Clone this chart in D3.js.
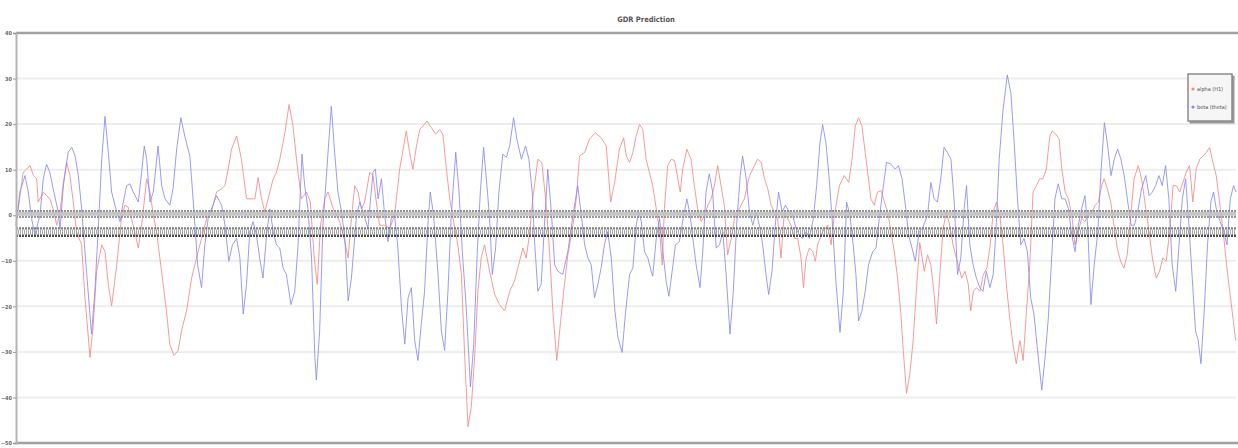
<!DOCTYPE html>
<html>
<head>
<meta charset="utf-8">
<script src="https://cdn.jsdelivr.net/npm/d3@7"></script>
<style>
  body { margin: 0; background: #fff; }
  svg { display: block; }
</style>
</head>
<body>
<div id="main"></div>
<script>
// values: [sample, value]
var redSeries = [[0,-2.2],[2.4,9.4],[4.7,10.9],[5.8,8.7],[6.9,8.0],[7.4,2.9],[8.6,4.3],[9.1,5.1],[10.2,4.3],[11.3,3.6],[12.4,1.4],[13.6,-2.2],[14.7,0.7],[15.8,7.2],[16.9,11.6],[18,8.7],[19.1,2.9],[20.2,-3.6],[21.9,-6.5],[23,-18.1],[24.7,-31.2],[25.8,-23.9],[26.9,-12.3],[28.6,-6.5],[29.7,-8.0],[30.8,-15.2],[31.9,-19.9],[33.6,-10.9],[35.2,-0.7],[36.3,2.2],[37.4,1.8],[39.1,-2.2],[40.8,-7.2],[41.9,-2.2],[43.6,8.0],[44.7,5.1],[45.8,0],[46.9,-3.6],[48,-9.4],[49.1,-15.2],[50.2,-21.0],[51.3,-28.3],[52.7,-30.8],[54.1,-29.7],[55.2,-25.4],[56.9,-21.0],[58.6,-13.8],[60.2,-9.4],[61.9,-5.1],[63.6,-0.7],[65.2,0.7],[66.9,5.1],[68.6,5.8],[69.7,6.5],[70.8,10.1],[71.9,14.5],[73.6,17.4],[75.2,12.3],[76.9,3.6],[78.6,3.6],[79.7,3.6],[80.8,8.3],[81.9,3.6],[83,0.7],[84.1,3.6],[85.8,8.0],[86.9,9.4],[88,12.3],[89.7,18.1],[91.1,24.3],[92.4,19.6],[93.8,10.9],[95.2,3.6],[96.9,5.1],[98.2,2.9],[99.5,-9.4],[100.5,-15.2],[101.6,-2.2],[103,3.6],[104.1,5.1],[105.8,1.4],[108,-1.4],[109.7,-5.8],[110.8,-9.4],[111.9,-0.7],[113,6.5],[114.1,5.1],[115.2,1.4],[116.3,2.9],[118,9.4],[119.1,8.7],[120.2,2.9],[121.3,-2.2],[123,-2.2],[124.7,-2.9],[126.3,0],[128,10.1],[130.2,18.5],[131.3,13.8],[132.4,10.1],[133.6,15.2],[134.7,18.8],[135.8,19.6],[137.1,20.7],[138.6,19.2],[140,17.8],[141.3,18.8],[142.4,17.8],[143.6,10.1],[144.7,3.6],[145.8,-0.7],[147.4,-6.5],[148.6,-13.0],[149.7,-31.2],[150.8,-46.4],[151.9,-42.0],[153,-31.2],[154.1,-16.7],[155.2,-9.4],[156.3,-6.5],[158,-12.3],[159.7,-17.4],[161.3,-19.6],[163,-21.0],[164.7,-16.7],[166.3,-14.5],[167.4,-11.6],[169.1,-7.2],[170.2,-9.4],[171.3,-4.3],[172.4,3.6],[174.1,12.3],[175.4,11.6],[176.7,3.6],[178,-8.0],[179.1,-21.0],[180.4,-31.9],[181.6,-23.9],[182.7,-16.7],[184.1,-8.7],[185.8,-2.2],[186.9,3.6],[188,13.0],[189.7,13.8],[191.3,16.7],[193.3,18.1],[195.2,17.0],[196.9,15.2],[198.4,2.9],[199.7,7.2],[201.3,14.5],[202.7,17.0],[203.6,13.0],[204.7,11.6],[205.8,13.8],[206.9,17.4],[208,19.9],[209.1,18.8],[210.2,12.3],[211.3,9.4],[212.4,6.5],[213.6,1.4],[214.7,-3.6],[215.6,-10.9],[216.3,1.4],[217.4,10.9],[218.6,12.3],[219.7,12.0],[220.8,8.0],[221.6,5.1],[222.4,10.1],[223.8,14.5],[225.2,12.3],[226.3,6.5],[227.4,1.4],[228.6,-1.4],[229.7,0],[230.8,2.2],[231.9,3.6],[233,6.5],[234.1,10.9],[235.2,6.5],[236.3,2.2],[237.4,-8.7],[238.6,-5.1],[239.7,-0.7],[241.3,1.4],[243,3.6],[244.7,8.7],[245.8,10.1],[247.4,12.3],[248.6,11.6],[249.7,8.0],[250.8,5.8],[251.9,2.2],[253,0.7],[254.1,-0.7],[255.2,-9.4],[256.3,0.7],[257.4,-0.7],[258.6,-2.2],[259.7,-5.1],[260.8,-5.1],[261.9,-9.4],[262.7,-15.9],[263.6,-9.4],[264.7,-7.2],[265.8,-8.0],[266.7,-10.1],[267.4,-6.5],[269.1,-3.6],[270.8,-2.2],[271.9,-6.5],[273,0],[274.7,6.5],[276.3,8.7],[277.8,7.2],[278.9,12.3],[280,19.6],[281.1,21.4],[282.2,19.6],[283.3,13.8],[284.4,8.0],[285.2,3.6],[286.3,2.2],[287.4,5.1],[288.6,5.4],[289.7,2.9],[290.8,0.7],[291.9,-3.6],[293,-8.0],[294.1,-13.8],[295.2,-21.7],[296,-29.7],[297.1,-39.1],[298.2,-34.8],[299.3,-27.5],[300.2,-18.1],[301.5,-6],[303,-12.3],[304.1,-8.7],[305.2,-10.9],[306.3,-17.4],[307.1,-23.9],[308.2,-13.0],[309.3,-2.9],[310.4,0.7],[311.5,-2.2],[312.6,-6.5],[313.7,-9.4],[314.6,-11.6],[315.5,-13.8],[316.6,-12.3],[317.7,-15.2],[318.5,-21.0],[319.4,-16.7],[320.4,-15.9],[321.6,-16.7],[322.7,-13.0],[323.9,-11.6],[325,-6.5],[326,0.7],[327.1,2.9],[328.2,0],[329.3,-6.5],[330.4,-15.2],[331.5,-22.5],[332.6,-28.3],[333.7,-32.6],[334.9,-27.5],[336,-31.9],[337.1,-21.0],[338.2,-10.9],[339.3,5.1],[340.4,6.5],[341.5,8.0],[342.6,8.0],[343.7,10.1],[344.9,17.4],[345.7,18.5],[346.9,17.8],[348,16.7],[348.9,10.1],[350,5.1],[351.1,3.6],[352.2,0],[353.3,-6.5],[354.4,-3.6],[355.5,-0.7],[356.6,-1.4],[357.7,0],[358.9,0.7],[360,2.2],[361.1,2.9],[362.2,6.5],[363,8.0],[364.1,5.8],[365.2,2.9],[366.3,-2.2],[367.4,-7.2],[368.5,-10.1],[369.6,-11.6],[370.7,-8.7],[371.9,0],[373,8.0],[374.4,10.9],[375.5,8.0],[376.6,2.9],[378,-3.6],[379.1,-9.4],[380.4,-13.8],[381.5,-12.3],[382.6,-9.4],[383.7,-10.1],[384.9,-3.6],[386,6.5],[387.1,6.5],[388.2,5.1],[389.3,7.2],[390.4,9.4],[391.5,10.9],[392.6,2.9],[393.7,10.1],[394.9,12.3],[396,13.0],[397.1,13.8],[398.2,14.9],[399.3,11.6],[400.4,8.7],[401.5,2.9],[402.6,-2.9],[404.1,-12.3],[405.7,-21.0],[406.9,-27.5]];

var blueSeries = [[0,-2.2],[1.3,5.1],[3,8.7],[4.1,5.1],[5.2,-0.7],[6.3,-4.3],[8,0],[9.1,8.0],[10.2,11.2],[11.3,9.4],[12.4,5.8],[14.1,0.7],[14.7,-2.9],[15.8,6.5],[17.4,13.8],[18.6,14.9],[19.7,13.0],[20.8,8.7],[21.9,1.4],[23.6,-13.0],[25.2,-26.1],[26.3,-16.7],[27.4,-3.6],[28.6,12.3],[29.7,21.7],[30.8,13.8],[31.9,5.1],[33.6,0.7],[34.7,-1.4],[35.8,2.9],[36.9,6.5],[38,6.9],[39.1,5.1],[40.8,2.9],[41.9,9.4],[42.8,15.2],[43.6,12.3],[44.7,2.9],[45.8,5.1],[47.4,15.2],[48.6,6.5],[49.7,3.6],[51.3,2.2],[52.4,5.8],[53.6,14.5],[55,21.4],[56.3,17.4],[58,13.0],[58.9,5.1],[59.7,-2.2],[60.6,-10.9],[61.9,-15.9],[63,-6.5],[64.1,-0.7],[65.2,1.4],[66.9,4.3],[68.6,2.2],[69.7,-2.2],[71,-10.1],[72.2,-6.5],[73.6,-5.1],[74.7,-9.4],[75.8,-21.7],[76.9,-15.2],[78,-3.6],[79.1,-1.4],[80.2,-4.3],[81.3,-9.4],[82.4,-13.8],[83.6,-4.3],[84.7,1.4],[85.8,-3.6],[86.9,-6.5],[88,-7.2],[89.1,-11.6],[90.2,-13.0],[91.7,-19.6],[93,-16.7],[94.1,-6.5],[95.4,13.4],[96.3,6.5],[97.4,1.4],[98.6,-9.4],[99.7,-31.2],[100.2,-36.2],[101.3,-25.4],[102.4,-2.2],[104.1,13.8],[105.2,23.9],[106.3,13.8],[107.4,5.1],[108.6,0.7],[109.7,-5.1],[110.8,-18.8],[111.9,-13.8],[113.6,0],[114.7,2.9],[115.8,0.7],[117.4,-2.9],[119.1,9.4],[119.9,10.1],[120.8,3.6],[121.9,8.0],[123,0],[124.1,-5.8],[125.2,-0.7],[126.3,0],[127.4,-7.2],[128.6,-20.3],[129.7,-28.3],[130.8,-18.1],[131.9,-15.9],[133,-27.5],[134.1,-31.9],[135.2,-23.9],[136.3,-16.7],[137.4,-2.2],[138.2,5.1],[139.3,0],[140.8,-13.0],[141.9,-25.4],[143,-29.7],[144.1,-16.7],[145.2,0],[146.7,13.8],[147.8,5.1],[148.9,-8.0],[150.2,-20.3],[151.6,-37.7],[152.7,-28.3],[153.8,-9.4],[154.9,5.1],[156,14.9],[157.1,6.5],[158,-0.7],[158.9,-13.0],[160,-7.2],[161.1,5.1],[162.4,13.4],[163.6,12.7],[164.7,15.2],[166,21.4],[167.1,16.7],[168.6,12.3],[170,15.2],[171.1,12.3],[172.2,5.1],[173,-5.8],[174.1,-16.7],[175.2,-15.2],[176.3,-2.2],[177.4,10.1],[178.6,0.7],[179.7,-10.9],[180.8,-12.3],[182.4,-13.0],[184.1,-8.0],[185.8,0],[187.4,6.5],[188.6,0],[189.7,-6.5],[190.8,-9.4],[191.9,-10.9],[193,-18.1],[194.1,-15.2],[195.2,-11.6],[196.3,-6.5],[197.4,-3.6],[198.6,-9.4],[199.7,-20.3],[200.8,-26.8],[202.2,-30.1],[203.3,-21.7],[204.7,-13.0],[205.8,-11.6],[206.9,-2.2],[207.8,0.7],[208.6,-1.4],[209.7,-8.0],[210.8,-9.4],[211.9,-12.3],[212.4,-13.4],[213.6,-5.1],[214.7,-0.7],[215.8,-8.0],[216.9,-14.5],[217.8,-17.8],[218.9,-12.3],[220,-6.5],[221.3,-5.8],[222.4,-1.4],[223.8,3.6],[224.9,0],[225.8,-5.1],[226.9,-10.9],[228.2,-15.9],[229.1,-8.0],[230.2,5.1],[231.3,9.1],[232.4,5.1],[233.6,-7.2],[234.7,-6.5],[235.8,-3.6],[236.9,-13.0],[238.2,-26.1],[239.3,-16.7],[240.4,-2.2],[241.6,8.7],[242.4,13.0],[243.6,8.0],[244.7,0.7],[245.8,-2.2],[246.9,0.7],[248,-2.2],[249.1,-6.5],[250.2,-13.0],[251.1,-17.4],[252.2,-12.3],[253.3,-2.2],[254.4,5.1],[255.6,0.7],[256.7,2.2],[258,0.7],[259.1,0],[260.2,-2.9],[261.3,-4.3],[262.4,-5.1],[263.6,-3.6],[264.7,-5.1],[266,-0.7],[267.1,6.5],[268.2,15.9],[269.1,19.9],[270.2,15.9],[271.3,8.0],[272.4,-2.2],[273.6,-15.2],[274.9,-25.7],[276,-16.7],[277.1,2.9],[278.2,0],[279.3,-6.5],[280.2,-13.0],[281.1,-23.2],[282.2,-21.0],[283.3,-16.7],[284.4,-10.9],[285.8,-8.0],[286.9,-7.2],[288,-0.7],[289.1,5.1],[290.4,11.6],[291.9,11.2],[293.3,10.1],[294.4,10.9],[295.6,8.0],[296.7,2.2],[297.8,-4.3],[298.9,-7.2],[300,-10.1],[301.3,-3.6],[302.4,-2.9],[304.1,0],[305.2,7.2],[306.3,3.6],[307.4,2.9],[308.5,8.0],[309.6,14.9],[310.7,13.8],[311.9,12.3],[313,2.9],[314.1,-13.0],[315.2,-9.4],[316.3,1.4],[317.1,6.5],[318.2,-6.5],[319.3,-10.9],[320.4,-13.8],[321.5,-15.9],[322.6,-16.7],[323.7,-12.3],[324.9,-15.9],[326,-13.0],[326.9,-3.6],[328,12.3],[329.3,23.2],[330.7,30.8],[331.9,26.8],[333,15.9],[334.1,3.6],[335.2,-6.5],[336.3,-5.1],[337.4,-8.0],[338.5,-18.1],[339.6,-21.7],[340.7,-29.0],[342.2,-38.4],[343.3,-31.2],[344.4,-22.5],[345.5,-9.4],[346.6,3.6],[347.7,6.9],[348.9,3.6],[350,3.6],[351.1,1.4],[352.2,-4.3],[353.3,-8.0],[354.4,-2.2],[355.5,1.4],[356.6,4.3],[357.5,-2.2],[358.6,-19.6],[359.7,-10.9],[360.9,-3.6],[362,10.1],[363.1,20.3],[364.2,15.2],[365.3,8.7],[366.4,12.3],[367.5,14.5],[368.6,12.3],[369.7,8.7],[370.9,2.9],[372,-2.2],[373.1,-2.2],[374.2,0.7],[375.5,5.8],[376.9,8.7],[378,4.3],[379.1,5.1],[380.2,6.5],[381.3,8.7],[382.4,6.5],[383.5,10.9],[384.6,3.6],[385.7,-10.9],[386.9,-16.7],[388,-6.5],[389.1,3.6],[390.2,8.0],[391.3,-2.2],[392.4,-13.8],[393.5,-25.4],[394.4,-27.5],[395.3,-32.6],[396.4,-21.0],[397.5,-6.5],[398.6,2.9],[399.5,5.1],[400.6,0.7],[401.7,-1.4],[402.9,-3.6],[404,-6.5],[405.1,3.6],[406.2,6.5],[407,5.1]];

// near-flat series that sit around zero (drawn as bands)
var upperBandLevels = [0.9, 0.3, -0.4];
var lowerBandLevels = [-2.9, -3.7, -4.5];

var yTicks = [40, 30, 20, 10, 0, -10, -20, -30, -40, -50];
var seriesNames = ["alpha (H1)", "beta (theta)"];
var seriesColors = ["#f28a8a", "#8a8af2"];
var chartTitle = "GDR Prediction";

var W = 1238, H = 448;
var plotL = 16, plotR = 1236, plotT = 33, plotB = 443;

var svg = d3.select("#main").append("svg")
	.attr("width", W)
	.attr("height", H);

svg.append("defs").append("filter")
	.attr("id", "soft")
	.append("feGaussianBlur")
	.attr("stdDeviation", 0.6);

var x = d3.scaleLinear().domain([0, 407]).range([plotL, plotR]);
var y = d3.scaleLinear().domain([-50, 40]).range([plotB, plotT]);

// grid lines
svg.append("g")
	.selectAll("line")
	.data(yTicks.slice(1, -1))
	.enter().append("line")
	.attr("x1", plotL).attr("x2", plotR)
	.attr("y1", function(d) { return y(d); })
	.attr("y2", function(d) { return y(d); })
	.style("stroke", "#ededed")
	.style("stroke-width", 2);

var line = d3.line()
	.x(function(d) { return x(d[0]); })
	.y(function(d) { return y(d[1]); });

[redSeries, blueSeries].forEach(function(s, i) {
	svg.append("path")
		.datum(s)
		.attr("d", line)
		.style("fill", "none")
		.style("stroke", seriesColors[i])
		.style("stroke-width", 1)
		.style("opacity", 0.85);
});

// bands of flat series
var bandGroup = svg.append("g").attr("filter", "url(#soft)");
function band(levels, colors, widths, dashes) {
	levels.forEach(function(v, i) {
		bandGroup.append("line")
			.attr("x1", plotL).attr("x2", plotR)
			.attr("y1", y(v)).attr("y2", y(v))
			.style("stroke", colors[i])
			.style("stroke-width", widths[i])
			.style("stroke-dasharray", dashes[i])
			.style("opacity", 0.9);
	});
}
band(upperBandLevels, ["#808080", "#c0c0c0", "#909090"], [2, 4, 2], ["2,1", null, "2,1"]);
band(lowerBandLevels, ["#707070", "#a0a0a0", "#383838"], [2.2, 5, 2.4], ["2,1", "1,1", "2,1"]);

// frame
svg.append("line").attr("x1", plotL).attr("x2", W).attr("y1", plotT).attr("y2", plotT)
	.style("stroke", "#a0a0a0").style("stroke-width", 2.5);
svg.append("line").attr("x1", plotL).attr("x2", W).attr("y1", plotB).attr("y2", plotB)
	.style("stroke", "#a0a0a0").style("stroke-width", 2.5);

var yAxis = svg.append("g")
	.attr("transform", "translate(" + plotL + ",0)")
	.call(d3.axisLeft(y).tickValues(yTicks).tickSize(3).tickFormat(d3.format("d")));
yAxis.select(".domain").style("stroke", "#b4b4b4").style("stroke-width", 2);
yAxis.selectAll(".tick line").style("stroke", "#999");
yAxis.selectAll("text")
	.style("font-family", "DejaVu Sans Condensed")
	.style("font-weight", "bold")
	.style("font-size", "5.5px")
	.style("fill", "#666")
	.attr("x", -4);

// title
svg.append("text")
	.attr("x", 646).attr("y", 22)
	.attr("text-anchor", "middle")
	.style("font-family", "DejaVu Sans Condensed")
	.style("font-weight", "bold")
	.style("font-size", "7.5px")
	.style("fill", "#555")
	.text(chartTitle);

// legend
var lg = svg.append("g").attr("transform", "translate(1188,74)");
lg.append("rect")
	.attr("x", 1.5).attr("y", 1.5).attr("width", 45).attr("height", 48)
	.style("fill", "#9a9a9a");
lg.append("rect")
	.attr("width", 44).attr("height", 47)
	.style("fill", "#f6f6f6")
	.style("stroke", "#8a8a8a")
	.style("stroke-width", 1.5);
seriesNames.forEach(function(n, i) {
	var g = lg.append("g").attr("transform", "translate(0," + (15 + i * 18) + ")");
	g.append("circle").attr("cx", 5).attr("cy", 0).attr("r", 1.6).style("fill", seriesColors[i]);
	g.append("text")
		.attr("x", 9).attr("y", 2)
		.style("font-family", "DejaVu Sans Condensed")
		.style("font-size", "5.5px")
		.style("fill", "#555")
		.text(n);
});
</script>
</body>
</html>
